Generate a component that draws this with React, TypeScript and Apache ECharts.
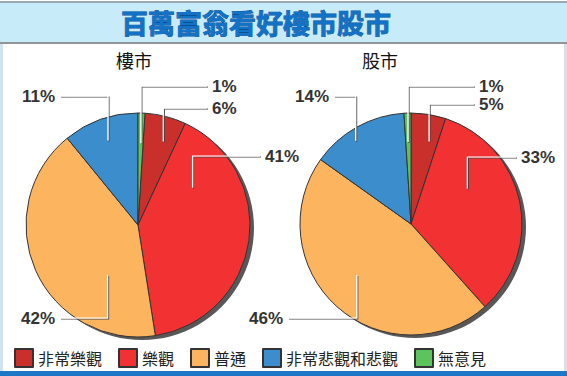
import { useEffect, useRef } from 'react';
import * as echarts from 'echarts';

const mainTitle = '百萬富翁看好樓市股市';
const pieTitles = ['樓市', '股市'];
const categories = ['非常樂觀', '樂觀', '普通', '非常悲觀和悲觀', '無意見'];
const propertyValues = [6, 41, 42, 11, 1];
const stockValues = [5, 33, 46, 14, 1];

const colors = ['#c9302c', '#f23232', '#fcb55e', '#3b8dcc', '#5cc45c'];

// layout config (positions / styles, not data)
type LabelCfg = { f: number; rf: number; dy: number; ex: number };
type PieCfg = { cx: number; cy: number; r: number; values: number[]; startFromLast: boolean; labels: LabelCfg[] };

const pies: PieCfg[] = [
  {
    cx: 138, cy: 225, r: 112, values: propertyValues, startFromLast: true,
    labels: [
      { f: 0.62, rf: 0.78, dy: -117, ex: 69 },
      { f: 0.21, rf: 0.59, dy: -69, ex: 122 },
      { f: 0.27, rf: 0.52, dy: 93, ex: -78 },
      { f: 0.5, rf: 0.8, dy: -129, ex: -78 },
      { f: 0.56, rf: 0.73, dy: -139, ex: 69 },
    ],
  },
  {
    cx: 411, cy: 224, r: 111, values: stockValues, startFromLast: false,
    labels: [
      { f: 0.68, rf: 0.76, dy: -120, ex: 63 },
      { f: 0.33, rf: 0.6, dy: -67, ex: 105 },
      { f: 0.53, rf: 0.67, dy: 94, ex: -123 },
      { f: 0.41, rf: 0.9, dy: -128, ex: -77 },
      { f: 0.42, rf: 0.74, dy: -138, ex: 63 },
    ],
  },
];

function startAngleOf(p: PieCfg) {
  const sum = p.values.reduce((a, b) => a + b, 0);
  return p.startFromLast ? 90 - (p.values[p.values.length - 1] / sum) * 360 : 90;
}

function makeLayout(p: PieCfg) {
  const sum = p.values.reduce((a, b) => a + b, 0);
  const base = 90 - startAngleOf(p);
  return (params: any) => {
    const idx = params.dataIndex;
    let acc = base;
    for (let i = 0; i < idx; i++) acc += (p.values[i] / sum) * 360;
    const span = (p.values[idx] / sum) * 360;
    const c = p.labels[idx];
    const th = ((acc + span * c.f) * Math.PI) / 180;
    const ax = p.cx + p.r * c.rf * Math.sin(th);
    const ay = p.cy - p.r * c.rf * Math.cos(th);
    const ly = p.cy + c.dy;
    const ex = p.cx + c.ex;
    const right = c.ex > 0;
    return {
      x: ex + (right ? 5 : -5),
      y: ly,
      align: right ? 'left' : 'right',
      verticalAlign: 'middle',
      labelLinePoints: [[ax, ay], [ax, ly], [ex, ly]],
    };
  };
}

export default function App() {
  const ref = useRef<HTMLDivElement>(null);
  useEffect(() => {
    document.body.style.margin = '0';
    const chart = echarts.init(ref.current!, null, { renderer: 'svg' });
    const series: any[] = [];
    pies.forEach((p) => {
      series.push({
        type: 'pie',
        silent: true,
        z: 1,
        center: [p.cx + 4, p.cy + 3],
        radius: p.r,
        label: { show: false },
        labelLine: { show: false },
        data: [{ value: 1, name: '_shadow', itemStyle: { color: '#585858' } }],
      });
      series.push({
        type: 'pie',
        z: 2,
        silent: true,
        center: [p.cx, p.cy],
        radius: p.r,
        startAngle: startAngleOf(p),
        clockwise: true,
        itemStyle: { borderColor: '#333', borderWidth: 1 },
        label: { show: false },
        labelLine: { show: false },
        data: categories.map((name, i) => ({
          name,
          value: p.values[i],
          itemStyle: { color: colors[i] },
        })),
      });
    });
    pies.forEach((p) => {
      series.push({
        type: 'pie',
        z: 5,
        silent: true,
        center: [p.cx, p.cy],
        radius: p.r,
        startAngle: startAngleOf(p),
        clockwise: true,
        avoidLabelOverlap: false,
        itemStyle: { color: 'rgba(0,0,0,0)', borderWidth: 0 },
        label: {
          show: true,
          position: 'outside',
          formatter: '{c}%',
          fontSize: 17,
          fontWeight: 'bold',
          color: '#333',
          fontFamily: 'Liberation Sans',
        },
        labelLine: {
          show: true,
          smooth: false,
          lineStyle: {
            color: '#ffffff',
            width: 1.2,
            shadowColor: '#444444',
            shadowBlur: 0,
            shadowOffsetX: 1,
            shadowOffsetY: 1,
          },
        },
        labelLayout: makeLayout(p),
        data: categories.map((name, i) => ({
          name,
          value: p.values[i],
          itemStyle: { color: 'rgba(0,0,0,0)' },
        })),
      });
    });

    chart.setOption({
      animation: false,
      backgroundColor: '#ffffff',
      color: colors,
      title: [
        {
          text: mainTitle,
          left: 121,
          top: 9,
          padding: 0,
          textStyle: {
            fontSize: 27,
            fontWeight: 'bold',
            color: '#1272c6',
            fontFamily: 'Noto Sans CJK TC',
            textBorderColor: '#0b4f94',
            textBorderWidth: 0.8,
          },
        },
        {
          text: pieTitles[0],
          left: 116,
          top: 51,
          padding: 0,
          textStyle: { fontSize: 18, fontWeight: 'normal', color: '#111', fontFamily: 'Noto Sans CJK TC' },
        },
        {
          text: pieTitles[1],
          left: 362,
          top: 51,
          padding: 0,
          textStyle: { fontSize: 18, fontWeight: 'normal', color: '#111', fontFamily: 'Noto Sans CJK TC' },
        },
      ],
      legend: {
        data: categories,
        left: 14,
        top: 348,
        padding: 0,
        itemWidth: 18,
        itemHeight: 18,
        itemGap: 16,
        icon: 'rect',
        selectedMode: false,
        textStyle: { fontSize: 16, color: '#222', fontFamily: 'Noto Sans CJK TC' },
      },
      graphic: [
        { type: 'rect', z: -10, silent: true, shape: { x: 0, y: 2, width: 567, height: 41 }, style: { fill: '#c8ebfa' } },
        { type: 'rect', z: -9, silent: true, shape: { x: 0, y: 1, width: 567, height: 2 }, style: { fill: '#9aa8b0' } },
        { type: 'rect', z: -9, silent: true, shape: { x: 0, y: 42, width: 567, height: 2 }, style: { fill: '#8f9498' } },
        { type: 'rect', z: -9, silent: true, shape: { x: 0, y: 44, width: 3, height: 328 }, style: { fill: '#cfe3f2' } },
        { type: 'rect', z: -9, silent: true, shape: { x: 564, y: 44, width: 3, height: 328 }, style: { fill: '#d6e2ea' } },
        { type: 'rect', z: -9, silent: true, shape: { x: 0, y: 371, width: 567, height: 5 }, style: { fill: '#1c78c6' } },
      ],
      series,
    });
    return () => chart.dispose();
  }, []);
  return <div ref={ref} style={{ width: 567, height: 376 }} />;
}
